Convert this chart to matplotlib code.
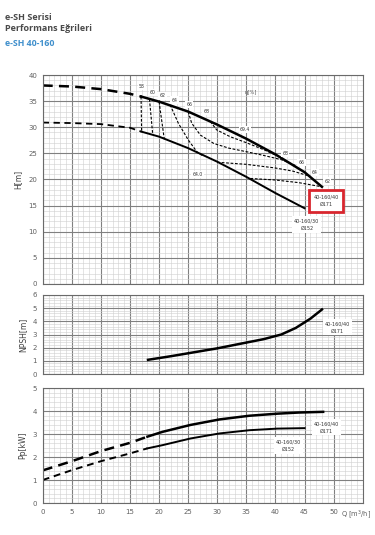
import numpy as np
import matplotlib
matplotlib.use('Agg')
import matplotlib.pyplot as plt
from matplotlib.ticker import MultipleLocator

# H-Q curves
q171 = [0, 5, 10, 15, 17, 20, 25, 30, 35, 40, 45, 48]
h171 = [38.0, 37.8, 37.3, 36.4, 35.85, 34.9, 33.0, 30.5, 27.8, 24.8, 21.4, 18.6]
q152 = [0, 5, 10, 15, 17, 20, 25, 30, 35, 40, 45]
h152 = [30.9, 30.8, 30.6, 29.9, 29.15, 28.2, 26.0, 23.4, 20.5, 17.4, 14.5]
q_split = 17

# iso-efficiency lines
eff58_q, eff58_h = [16.9, 17.0], [35.85, 29.15]
eff60_q, eff60_h = [18.35, 18.9], [35.4, 28.7]
eff62_q, eff62_h = [20.0, 20.9], [34.9, 27.7]
eff64_q, eff64_h = [21.9, 23.3, 25.0, 26.5, 27.4], [34.3, 30.8, 27.6, 25.3, 24.6]
eff66_q = [25.0, 25.6, 27.1, 29.4, 32.0, 35.1, 38.0, 41.0, 43.6]
eff66_h = [33.0, 30.8, 28.5, 26.9, 26.0, 25.3, 24.6, 23.8, 22.6]
eff68_q = [28.8, 29.9, 32.2, 35.1, 38.0, 40.8]
eff68_h = [31.1, 29.5, 28.2, 27.0, 25.7, 24.3]
eff64r_q, eff64r_h = [30.0, 35.0, 40.0, 43.0, 46.0], [23.3, 22.9, 22.2, 21.6, 20.6]
eff62r_q, eff62r_h = [35.7, 40.0, 44.0, 48.0], [20.2, 19.9, 19.4, 18.6]

eff_labels = ['58', '60', '62', '64', '66', '68', '69.4', '64.0', '68', '66', '64', '62']
eff_lab_q = [17.0, 18.9, 20.6, 22.65, 25.2, 28.1, 34.8, 26.6, 41.7, 44.5, 46.75, 48.9]
eff_lab_h = [37.8, 36.7, 36.0, 35.2, 34.3, 33.1, 29.6, 21.0, 25.0, 23.2, 21.4, 19.7]

# NPSH
npsh_q = [18.1, 22, 26, 30, 34, 38, 41, 43.5, 46, 48]
npsh_h = [1.08, 1.35, 1.65, 1.95, 2.3, 2.65, 3.0, 3.5, 4.2, 4.9]

# power
p171_q = [0, 5, 10, 15, 18, 20.6, 25.4, 30.4, 35.5, 40.3, 44, 48.2]
p171 = [1.42, 1.82, 2.26, 2.62, 2.89, 3.10, 3.40, 3.64, 3.80, 3.89, 3.94, 3.97]
p152_q = [0, 5, 10, 15, 18, 20.6, 25.4, 30.4, 35.5, 40.3, 45]
p152 = [1.0, 1.43, 1.82, 2.16, 2.38, 2.52, 2.81, 3.03, 3.17, 3.24, 3.26]

x_ticks = [0, 5, 10, 15, 20, 25, 30, 35, 40, 45, 50]

gray = '#606060'
fig = plt.figure(figsize=(3.75, 5.35), dpi=100)

fig.text(0.013, 0.967, 'e-SH Serisi', fontsize=6.5, fontweight='bold', color='#4a4a4a',
         family='Open Sans', va='center')
fig.text(0.013, 0.946, 'Performans Eğrileri', fontsize=6.5, fontweight='bold', color='#4a4a4a',
         family='Open Sans', va='center')
fig.text(0.013, 0.918, 'e-SH 40-160', fontsize=6.3, fontweight='bold', color='#3f8fcc',
         family='Open Sans', va='center')


def setup(ax, ymax, ymaj, ymin, ylabel, xlabels=False):
    ax.set_xlim(0, 55)
    ax.set_ylim(0, ymax)
    ax.set_xticks(x_ticks)
    ax.xaxis.set_minor_locator(MultipleLocator(1))
    ax.yaxis.set_major_locator(MultipleLocator(ymaj))
    ax.yaxis.set_minor_locator(MultipleLocator(ymin))
    ax.grid(which='minor', color='#cfcfcf', lw=0.4)
    ax.grid(which='major', color='#808080', lw=0.8)
    ax.set_axisbelow(True)
    ax.tick_params(which='both', length=0, labelsize=5, colors=gray, pad=4)
    if not xlabels:
        ax.tick_params(axis='x', labelbottom=False)
    for s in ax.spines.values():
        s.set_color('#6a6a6a')
        s.set_linewidth(0.8)
    ax.set_ylabel(ylabel, fontsize=5.5, color='#404040', labelpad=4)


lab_box = dict(boxstyle='square,pad=0.25', fc='white', ec='none')

# ---- H-Q ----
ax1 = fig.add_axes([0.1139, 0.4692, 0.8533, 0.3906])
setup(ax1, 40, 5, 1, 'H[m]')
q1 = np.array(q171); h1 = np.array(h171)
q2 = np.array(q152); h2 = np.array(h152)
ax1.plot(q1[q1 <= q_split], h1[q1 <= q_split], color='black', lw=1.8, ls=(0, (4, 2.5)))
ax1.plot(q1[q1 >= q_split], h1[q1 >= q_split], color='black', lw=1.8)
ax1.plot(q2[q2 <= q_split], h2[q2 <= q_split], color='black', lw=1.3, ls=(0, (3.5, 2.5)))
ax1.plot(q2[q2 >= q_split], h2[q2 >= q_split], color='black', lw=1.4)
for qq, hh in [(eff58_q, eff58_h), (eff60_q, eff60_h), (eff62_q, eff62_h), (eff64_q, eff64_h),
               (eff66_q, eff66_h), (eff68_q, eff68_h), (eff64r_q, eff64r_h), (eff62r_q, eff62r_h)]:
    ax1.plot(qq, hh, color='black', lw=0.8, ls=(0, (2.5, 1.5)))
for t, qq, hh in zip(eff_labels, eff_lab_q, eff_lab_h):
    ax1.text(qq, hh, t, fontsize=3.3, ha='center', va='center', color='#333333', bbox=lab_box)
ax1.text(35.7, 36.7, 'η[%]', fontsize=3.8, ha='center', va='center', color='#555555')
ax1.text(48.7, 15.9, '40-160/40\nØ171', fontsize=3.5, ha='center', va='center', color='#333333',
         linespacing=1.7, bbox=dict(boxstyle='square,pad=0.95', fc='white', ec='#d8262e', lw=2))
ax1.text(45.4, 11.4, '40-160/30\nØ152', fontsize=3.5, ha='center', va='center', color='#333333',
         linespacing=1.6, bbox=dict(boxstyle='square,pad=0.4', fc='white', ec='none'))

# ---- NPSH ----
ax2 = fig.add_axes([0.1139, 0.3009, 0.8533, 0.1477])
setup(ax2, 6, 1, 0.2, 'NPSH[m]')
ax2.plot(npsh_q, npsh_h, color='black', lw=1.8)
ax2.text(50.7, 3.55, '40-160/40\nØ171', fontsize=3.5, ha='center', va='center', color='#333333',
         linespacing=1.6, bbox=dict(boxstyle='square,pad=0.4', fc='white', ec='none'))

# ---- Power ----
ax3 = fig.add_axes([0.1139, 0.0598, 0.8533, 0.2146])
setup(ax3, 5, 1, 0.2, 'Pp[kW]', xlabels=True)
pq1 = np.array(p171_q); pp1 = np.array(p171)
pq2 = np.array(p152_q); pp2 = np.array(p152)
ax3.plot(pq1[pq1 <= 18], pp1[pq1 <= 18], color='black', lw=1.8, ls=(0, (4, 2.5)))
ax3.plot(pq1[pq1 >= 18], pp1[pq1 >= 18], color='black', lw=1.8)
ax3.plot(pq2[pq2 <= 18], pp2[pq2 <= 18], color='black', lw=1.4, ls=(0, (3.5, 2.5)))
ax3.plot(pq2[pq2 >= 18], pp2[pq2 >= 18], color='black', lw=1.4)
ax3.text(48.8, 3.3, '40-160/40\nØ171', fontsize=3.5, ha='center', va='center', color='#333333',
         linespacing=1.6, bbox=dict(boxstyle='square,pad=0.4', fc='white', ec='none'))
ax3.text(42.3, 2.5, '40-160/30\nØ152', fontsize=3.5, ha='center', va='center', color='#333333',
         linespacing=1.6, bbox=dict(boxstyle='square,pad=0.4', fc='white', ec='none'))
ax3.text(51.2, -0.5, 'Q [m$^3$/h]', fontsize=4.8, color=gray, ha='left', va='center', clip_on=False)

fig.savefig('out.png', dpi=100)
